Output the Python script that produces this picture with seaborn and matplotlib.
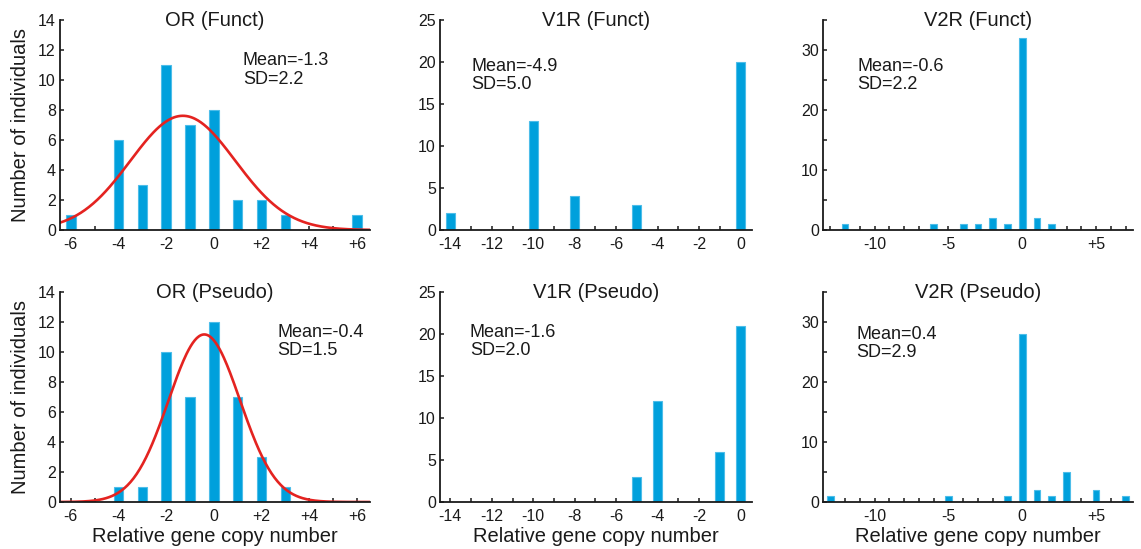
import numpy as np
import matplotlib
matplotlib.use("Agg")
import matplotlib.pyplot as plt
import seaborn as sns

# counts of individuals per relative copy number
OR_FUNCT_X = [-6, -4, -3, -2, -1, 0, 1, 2, 3, 6]
OR_FUNCT_N = [1, 6, 3, 11, 7, 8, 2, 2, 1, 1]
OR_PSEUDO_X = [-4, -3, -2, -1, 0, 1, 2, 3]
OR_PSEUDO_N = [1, 1, 10, 7, 12, 7, 3, 1]
V1R_FUNCT_X = [-14, -10, -8, -5, 0]
V1R_FUNCT_N = [2, 13, 4, 3, 20]
V1R_PSEUDO_X = [-5, -4, -1, 0]
V1R_PSEUDO_N = [3, 12, 6, 21]
V2R_FUNCT_X = [-12, -6, -4, -3, -2, -1, 0, 1, 2]
V2R_FUNCT_N = [1, 1, 1, 1, 2, 1, 32, 2, 1]
V2R_PSEUDO_X = [-13, -5, -1, 0, 1, 2, 3, 5, 7]
V2R_PSEUDO_N = [1, 1, 1, 28, 2, 1, 5, 2, 1]

TITLES = ["OR (Funct)", "V1R (Funct)", "V2R (Funct)",
          "OR (Pseudo)", "V1R (Pseudo)", "V2R (Pseudo)"]
MEANS = [-1.3, -4.9, -0.6, -0.4, -1.6, 0.4]
SDS = [2.2, 5.0, 2.2, 1.5, 2.0, 2.9]

OR_XTICKS = [-6, -4, -2, 0, 2, 4, 6]
OR_XLABELS = ["-6", "-4", "-2", "0", "+2", "+4", "+6"]
V1R_XTICKS = [-14, -12, -10, -8, -6, -4, -2, 0]
V1R_XLABELS = ["-14", "-12", "-10", "-8", "-6", "-4", "-2", "0"]
V2R_XTICKS = [-10, -5, 0, 5]
V2R_XLABELS = ["-10", "-5", "0", "+5"]

BAR_COLOR = "#00a0dc"
EDGE_COLOR = "#4dbde9"
CURVE_COLOR = "#e42320"
TEXT_COLOR = "#1a1a1a"

sns.set_style("ticks")
plt.rcParams["font.family"] = ["Liberation Sans", "DejaVu Sans"]
plt.rcParams["axes.unicode_minus"] = False
plt.rcParams["text.color"] = TEXT_COLOR
plt.rcParams["axes.labelcolor"] = TEXT_COLOR
plt.rcParams["xtick.color"] = TEXT_COLOR
plt.rcParams["ytick.color"] = TEXT_COLOR


def draw_panel(ax, xs, ns, bar_w, xlim, xticks, xlabels, ylim, ystep, ylabel_every,
               title, mean, sd, text_pos, curve=False):
    native = np.min(np.diff(np.unique(xs))) if len(xs) > 1 else 1
    sns.barplot(x=xs, y=ns, native_scale=True, width=bar_w / native,
                color=BAR_COLOR, saturation=1, errorbar=None,
                edgecolor=EDGE_COLOR, linewidth=0.8, ax=ax)
    if curve:
        total = sum(ns)
        gx = np.linspace(xlim[0], xlim[1], 300)
        gy = total * np.exp(-0.5 * ((gx - mean) / sd) ** 2) / (sd * np.sqrt(2 * np.pi))
        sns.lineplot(x=gx, y=gy, color=CURVE_COLOR, linewidth=1.9, ax=ax)

    ax.set_xlim(*xlim)
    ax.set_ylim(*ylim)
    ax.set_xticks(xticks)
    ax.set_xticklabels(xlabels)
    ax.set_xticks(np.arange(int(np.ceil(xlim[0])), int(np.floor(xlim[1])) + 1), minor=True)
    yt = np.arange(ylim[0], ylim[1] + 0.1, ystep)
    ax.set_yticks(yt)
    ax.set_yticklabels([str(int(v)) if int(v) % ylabel_every == 0 else "" for v in yt])
    ax.tick_params(which="both", direction="in", length=3, width=1.1, labelsize=11.5)
    ax.tick_params(axis="x", pad=5)
    ax.tick_params(axis="y", pad=3)
    sns.despine(ax=ax)
    for s in ["left", "bottom"]:
        ax.spines[s].set_linewidth(1.3)
        ax.spines[s].set_color(TEXT_COLOR)
    ax.set_xlabel("")
    ax.set_ylabel("")
    ax.text(0.5, 1.0, title, transform=ax.transAxes, ha="center", va="center",
            fontsize=14.5)
    ax.text(text_pos[0], text_pos[1], f"Mean={mean}\nSD={sd}", transform=ax.transAxes,
            ha="left", va="top", fontsize=13, linespacing=1.1)


fig = plt.figure(figsize=(11.41, 5.49), dpi=100)
col_left = [0.0526, 0.3856, 0.7213]
col_w = [0.2717, 0.2734, 0.2717]
row_bottom = [0.581, 0.0856]
row_h = 0.3825

axes = [[fig.add_axes([col_left[c], row_bottom[r], col_w[c], row_h]) for c in range(3)]
        for r in range(2)]

draw_panel(axes[0][0], OR_FUNCT_X, OR_FUNCT_N, 0.4, (-6.45, 6.55), OR_XTICKS, OR_XLABELS,
           (0, 14), 2, 2, TITLES[0], MEANS[0], SDS[0], (0.59, 0.846), curve=True)
draw_panel(axes[0][1], V1R_FUNCT_X, V1R_FUNCT_N, 0.43, (-14.5, 0.55), V1R_XTICKS, V1R_XLABELS,
           (0, 25), 5, 5, TITLES[1], MEANS[1], SDS[1], (0.10, 0.82))
draw_panel(axes[0][2], V2R_FUNCT_X, V2R_FUNCT_N, 0.45, (-13.5, 7.5), V2R_XTICKS, V2R_XLABELS,
           (0, 35), 5, 10, TITLES[2], MEANS[2], SDS[2], (0.11, 0.82))
draw_panel(axes[1][0], OR_PSEUDO_X, OR_PSEUDO_N, 0.4, (-6.45, 6.55), OR_XTICKS, OR_XLABELS,
           (0, 14), 2, 2, TITLES[3], MEANS[3], SDS[3], (0.70, 0.848), curve=True)
draw_panel(axes[1][1], V1R_PSEUDO_X, V1R_PSEUDO_N, 0.43, (-14.5, 0.55), V1R_XTICKS, V1R_XLABELS,
           (0, 25), 5, 5, TITLES[4], MEANS[4], SDS[4], (0.096, 0.848))
draw_panel(axes[1][2], V2R_PSEUDO_X, V2R_PSEUDO_N, 0.45, (-13.5, 7.5), V2R_XTICKS, V2R_XLABELS,
           (0, 35), 5, 10, TITLES[5], MEANS[5], SDS[5], (0.107, 0.838))

for r in range(2):
    axes[r][0].set_ylabel("Number of individuals", fontsize=14.5, labelpad=6)
for c in range(3):
    axes[1][c].set_xlabel("Relative gene copy number", fontsize=14.5, labelpad=2)

fig.savefig("out.png", dpi=100)
